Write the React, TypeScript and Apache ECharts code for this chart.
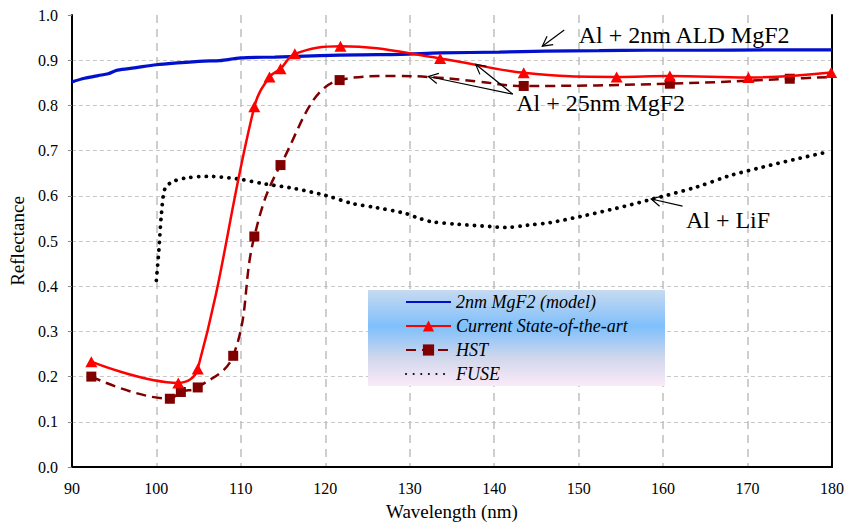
import React, { useEffect, useRef } from "react";
import * as echarts from "echarts";

// ---- data ----
const blueWl = [90, 91.5, 93.1, 94.3, 95.4, 97.4, 100, 102.5, 105.6, 107.5, 110, 114, 119.4, 124, 128.9, 133.6, 140.6, 146, 152.4, 158, 164.2, 172, 180];
const blueR = [0.852, 0.86, 0.866, 0.87, 0.878, 0.883, 0.89, 0.894, 0.898, 0.899, 0.905, 0.907, 0.91, 0.912, 0.913, 0.916, 0.918, 0.92, 0.921, 0.922, 0.922, 0.923, 0.923];

const redWl = [92.3, 102.6, 104.9, 111.6, 113.4, 114.7, 116.4, 121.8, 133.6, 143.5, 154.5, 160.8, 170.1, 179.9];
const redR = [0.233, 0.186, 0.217, 0.797, 0.863, 0.881, 0.914, 0.931, 0.904, 0.872, 0.863, 0.865, 0.862, 0.873];

const hstWl = [92.3, 101.6, 102.9, 104.9, 109.1, 111.6, 114.7, 121.7, 128.5, 133, 138, 143.5, 160.8, 175.0, 180];
const hstR = [0.2, 0.151, 0.166, 0.176, 0.246, 0.51, 0.668, 0.856, 0.865, 0.862, 0.853, 0.843, 0.848, 0.859, 0.863];
const hstMarked = [true, true, true, true, true, true, true, true, false, false, false, true, true, true, false];

const fuseWl = [100.0, 100.3, 100.6, 101.0, 101.8, 103.4, 106.1, 109.8, 112.6, 116.1, 120, 123.2, 126, 129.5, 131, 132.5, 135.7, 139.5, 141.3, 144, 146.7, 150.4, 154.4, 158.6, 163.9, 167.8, 171.7, 175.7, 179.7];
const fuseR = [0.413, 0.48, 0.56, 0.615, 0.63, 0.639, 0.643, 0.637, 0.627, 0.617, 0.601, 0.583, 0.574, 0.561, 0.551, 0.543, 0.537, 0.532, 0.53, 0.535, 0.541, 0.555, 0.572, 0.592, 0.619, 0.644, 0.663, 0.681, 0.698];

const seriesNames = ["2nm MgF2 (model)", "Current State-of-the-art", "HST", "FUSE"];
const legendHasSymbol = [false, true, true, false];
const xTicks = { min: 90, max: 180, step: 10 };
const yTicks = { min: 0, max: 1, step: 0.1 };

// annotations (data coordinates)
const annotationTexts = [
  { text: "Al + 2nm ALD MgF2", at: [150.0, 0.956] },
  { text: "Al + 25nm MgF2", at: [142.6, 0.806] },
  { text: "Al + LiF", at: [162.7, 0.546] },
];
const annotationArrows = [
  { from: [148.3, 0.967], to: [145.7, 0.931] },
  { from: [142.2, 0.825], to: [137.8, 0.891] },
  { from: [142.2, 0.825], to: [132.2, 0.864] },
  { from: [162.3, 0.577], to: [158.6, 0.593] },
];

const FONT = "'Liberation Serif', 'Times New Roman', serif";

export default function App() {
  const ref = useRef<HTMLDivElement>(null);

  useEffect(() => {
    if (!ref.current) return;
    const chart = echarts.init(ref.current, null, { renderer: "svg" });

    const frameAxis = {
      axisLine: { show: true, lineStyle: { color: "#000", width: 2 } },
      axisTick: { show: false },
      axisLabel: { show: false },
      splitLine: { show: false },
    };

    const option: any = {
      animation: false,
      backgroundColor: "#ffffff",
      textStyle: { fontFamily: FONT },
      grid: {
        left: 70.7,
        right: 13.7,
        top: 15,
        bottom: 54,
        show: false,
      },
      xAxis: [
        {
          type: "value",
          min: xTicks.min,
          max: xTicks.max,
          interval: xTicks.step,
          name: "Wavelength (nm)",
          nameLocation: "middle",
          nameGap: 35,
          nameTextStyle: { fontFamily: FONT, fontSize: 19, color: "#000" },
          axisLine: { show: true, lineStyle: { color: "#000", width: 2 } },
          axisTick: { show: false },
          axisLabel: { fontFamily: FONT, fontSize: 16, color: "#000", margin: 13 },
          splitLine: {
            show: true,
            showMinLine: false,
            showMaxLine: false,
            lineStyle: { color: "#bfbfbf", width: 1.5, type: [8, 6] },
          },
        },
        { type: "value", position: "top", min: xTicks.min, max: xTicks.max, ...frameAxis },
      ],
      yAxis: [
        {
          type: "value",
          min: yTicks.min,
          max: yTicks.max,
          interval: yTicks.step,
          name: "Reflectance",
          nameLocation: "middle",
          nameGap: 43,
          nameTextStyle: { fontFamily: FONT, fontSize: 19, color: "#000" },
          axisLine: { show: true, lineStyle: { color: "#000", width: 2 } },
          axisTick: { show: true, length: 4, lineStyle: { color: "#888" } },
          axisLabel: {
            fontFamily: FONT,
            fontSize: 16,
            color: "#000",
            margin: 14,
            formatter: (v: number) => v.toFixed(1),
          },
          splitLine: {
            show: true,
            showMinLine: false,
            showMaxLine: false,
            lineStyle: { color: "#c8c8c8", width: 1, type: [4, 3] },
          },
        },
        { type: "value", position: "right", min: yTicks.min, max: yTicks.max, ...frameAxis },
      ],
      legend: {
        orient: "vertical",
        left: 405,
        top: 293,
        padding: 0,
        itemWidth: 45,
        itemHeight: 14,
        itemGap: 6,
        z: 5,
        textStyle: { fontFamily: FONT, fontSize: 18, fontStyle: "italic", color: "#000", lineHeight: 18 },
        data: seriesNames.map((n, i) =>
          legendHasSymbol[i] ? { name: n } : { name: n, itemStyle: { opacity: 0 } }
        ),
      },
      series: [
        {
          name: seriesNames[0],
          type: "line",
          data: blueWl.map((x, i) => [x, blueR[i]]),
          smooth: 0.3,
          symbol: "none",
          lineStyle: { color: "#0010cc", width: 3.2 },
          itemStyle: { color: "#0010cc" },
          z: 3,
        },
        {
          name: seriesNames[1],
          type: "line",
          data: redWl.map((x, i) => [x, redR[i]]),
          smooth: 0.4,
          symbol: "triangle",
          symbolSize: [12, 11],
          lineStyle: { color: "#ff0000", width: 2.5 },
          itemStyle: { color: "#ff0000" },
          z: 4,
        },
        {
          name: seriesNames[2],
          type: "line",
          data: hstWl.map((x, i) =>
            hstMarked[i] ? { value: [x, hstR[i]] } : { value: [x, hstR[i]], symbol: "none" }
          ),
          smooth: 0.4,
          symbol: "rect",
          symbolSize: 10,
          lineStyle: { color: "#800000", width: 2.5, type: [10, 6] },
          itemStyle: { color: "#800000" },
          z: 3,
        },
        {
          name: seriesNames[3],
          type: "line",
          data: fuseWl.map((x, i) => [x, fuseR[i]]),
          smooth: 0.3,
          symbol: "none",
          lineStyle: { color: "#000", width: 3.8, type: [0.1, 7.5], cap: "round" },
          itemStyle: { color: "#000" },
          z: 2,
        },
      ],
    };

    chart.setOption(option);

    const px = (p: number[]) => chart.convertToPixel({ xAxisIndex: 0, yAxisIndex: 0 }, p) as number[];
    const elements: any[] = [];

    // legend background box
    elements.push({
      type: "rect",
      z: 1,
      shape: { x: 368, y: 290, width: 297, height: 96 },
      style: {
        fill: new echarts.graphic.LinearGradient(0, 0, 0, 1, [
          { offset: 0, color: "#c6daf0" },
          { offset: 0.38, color: "#7fbffb" },
          { offset: 0.72, color: "#d2d8ec" },
          { offset: 1, color: "#fbeaf8" },
        ]),
      },
    });

    annotationTexts.forEach((a) => {
      const p = px(a.at);
      elements.push({
        type: "text",
        z: 10,
        x: p[0],
        y: p[1],
        style: {
          text: a.text,
          fontFamily: FONT,
          fontSize: 24,
          fill: "#000",
          align: "left",
          verticalAlign: "middle",
        },
      });
    });

    annotationArrows.forEach((a) => {
      const t = px(a.from);
      const h = px(a.to);
      const dx = t[0] - h[0];
      const dy = t[1] - h[1];
      const len = Math.sqrt(dx * dx + dy * dy) || 1;
      const ux = dx / len;
      const uy = dy / len;
      const ang = (28 * Math.PI) / 180;
      const L = 11;
      const rot = (s: number) => [
        h[0] + L * (ux * Math.cos(s * ang) - uy * Math.sin(s * ang)),
        h[1] + L * (ux * Math.sin(s * ang) + uy * Math.cos(s * ang)),
      ];
      elements.push({
        type: "line",
        z: 10,
        shape: { x1: t[0], y1: t[1], x2: h[0], y2: h[1] },
        style: { stroke: "#000", lineWidth: 1.2 },
      });
      elements.push({
        type: "polyline",
        z: 10,
        shape: { points: [rot(1), h, rot(-1)] },
        style: { stroke: "#000", lineWidth: 1.2, fill: null },
      });
    });

    chart.setOption({ graphic: { elements } });

    return () => chart.dispose();
  }, []);

  return <div ref={ref} style={{ width: 847, height: 526, position: "absolute", left: 0, top: 0 }} />;
}
